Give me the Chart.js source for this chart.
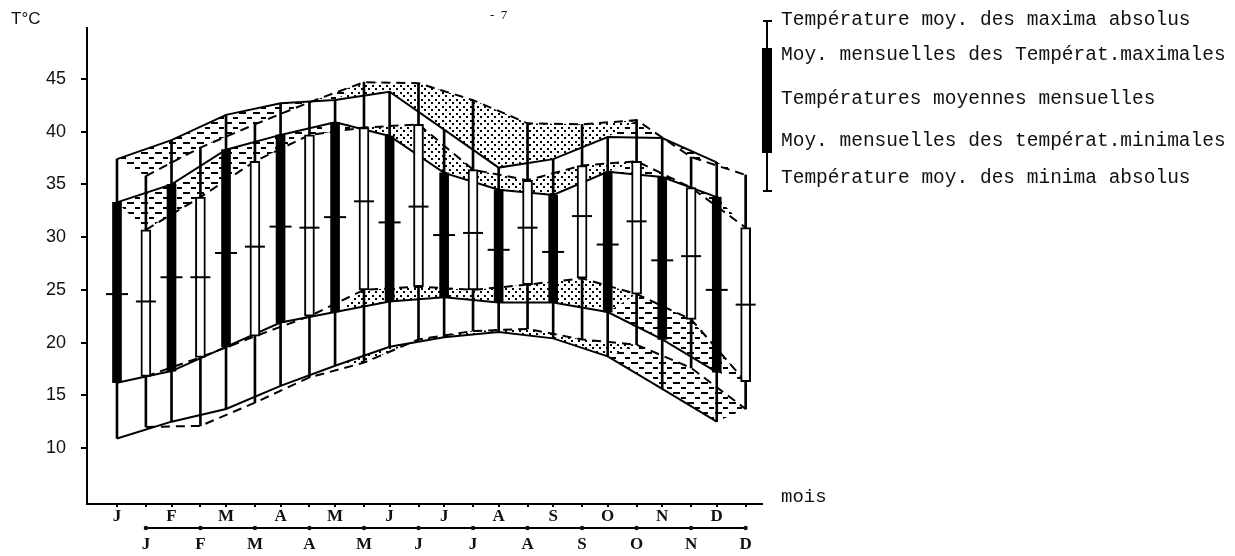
<!DOCTYPE html>
<html>
<head>
<meta charset="utf-8">
<script src="https://cdn.jsdelivr.net/npm/chart.js@4.4.0/dist/chart.umd.min.js"></script>
<style>
  html, body { margin: 0; padding: 0; background: #fff; }
  #wrap { width: 1235px; height: 556px; position: relative; }
</style>
</head>
<body>
<div id="wrap"><canvas id="chart"></canvas></div>
<script>
// Months (top row = station 1, bottom row = station 2)
const months = ['J', 'F', 'M', 'A', 'M', 'J', 'J', 'A', 'S', 'O', 'N', 'D'];
const yTicks = [10, 15, 20, 25, 30, 35, 40, 45];

// Station 1 : black bars, solid lines (°C)
const absMax1 = [37.4, 39.2, 41.6, 42.7, 43.0, 43.8, 40.2, 36.6, 37.4, 39.5, 39.4, 37.1];
const maxMoy1 = [33.3, 35.0, 38.3, 39.7, 40.9, 39.6, 36.1, 34.5, 34.0, 36.2, 35.7, 33.8];
const mean1   = [24.6, 26.2, 28.5, 31.0, 31.9, 31.4, 30.2, 28.8, 28.6, 29.3, 27.8, 25.0];
const minMoy1 = [16.2, 17.3, 19.6, 21.9, 22.9, 23.9, 24.3, 23.8, 23.8, 22.9, 20.3, 17.2];
const absMin1 = [10.9, 12.5, 13.7, 15.9, 17.8, 19.6, 20.5, 21.0, 20.4, 18.7, 15.6, 12.5];

// Station 2 : white bars, dashed lines (°C)
const absMax2 = [35.8, 38.5, 40.7, 42.8, 44.7, 44.6, 43.0, 40.8, 40.7, 41.1, 37.6, 35.9];
const maxMoy2 = [30.7, 33.8, 37.2, 39.7, 40.4, 40.7, 36.4, 35.4, 36.8, 37.2, 34.7, 30.9];
const mean2   = [23.9, 26.2, 29.1, 30.9, 33.4, 32.9, 30.4, 30.9, 32.0, 31.5, 28.2, 23.6];
const minMoy2 = [16.8, 18.6, 20.6, 22.5, 25.0, 25.3, 25.0, 25.5, 26.1, 24.6, 22.2, 16.3];
const absMin2 = [12.0, 12.1, 14.3, 16.7, 18.1, 20.3, 21.1, 21.3, 20.3, 19.8, 17.6, 13.7];

const legendLines = [
  'Température moy. des maxima absolus',
  'Moy. mensuelles des Températ.maximales',
  'Températures moyennes mensuelles',
  'Moy. mensuelles des températ.minimales',
  'Température moy. des minima absolus'
];

// station 2 sits a little after station 1 on the month axis
const shift2 = 0.53;

function makePattern(kind) {
  const c = document.createElement('canvas');
  const g = c.getContext('2d');
  g.fillStyle = '#1a1a1a';
  if (kind === 'dash') {
    c.width = 14; c.height = 10;
    g.fillRect(1, 2, 7, 2);
    g.fillRect(9, 7, 5, 2);
  } else {
    c.width = 7; c.height = 7;
    g.fillRect(1, 1, 2, 2);
    g.fillRect(4, 4, 2, 2);
  }
  return g.createPattern(c, 'repeat');
}
const dashPat = makePattern('dash');
const dotPat = makePattern('dot');

const pts = (arr, dx) => arr.map((v, i) => ({ x: i + dx, y: v }));
const range = (lo, hi, dx) => lo.map((v, i) => ({ x: i + dx, y: [v, hi[i]] }));

// closed outline between the two stations' curves, months from..to
function band(a, b, from, to) {
  const out = [];
  for (let i = from; i <= to; i++) out.push({ x: i, y: a[i] });
  for (let i = to; i >= from; i--) out.push({ x: i + shift2, y: b[i] });
  return out;
}

function bandSet(a, b, from, to, pat) {
  return {
    type: 'line', data: band(a, b, from, to), fill: 'shape',
    backgroundColor: pat, borderColor: 'rgba(0,0,0,0)', borderWidth: 0,
    pointRadius: 0, order: 50
  };
}

function curve(arr, dx, dashed) {
  return {
    type: 'line', data: pts(arr, dx), borderColor: '#000', borderWidth: 2,
    borderDash: dashed ? [9, 6] : [], pointRadius: 0, fill: false, order: 40
  };
}

const datasets = [
  bandSet(absMax1, absMax2, 0, 4, dashPat),
  bandSet(absMax1, absMax2, 4, 9, dotPat),
  bandSet(absMax1, absMax2, 9, 11, dashPat),
  bandSet(maxMoy1, maxMoy2, 0, 4, dashPat),
  bandSet(maxMoy1, maxMoy2, 4, 9, dotPat),
  bandSet(maxMoy1, maxMoy2, 9, 11, dashPat),
  bandSet(minMoy1, minMoy2, 4, 9, dotPat),
  bandSet(minMoy1, minMoy2, 9, 11, dashPat),
  bandSet(absMin1, absMin2, 4, 9, dotPat),
  bandSet(absMin1, absMin2, 9, 11, dashPat),

  curve(absMax1, 0, false), curve(maxMoy1, 0, false),
  curve(minMoy1, 0, false), curve(absMin1, 0, false),
  curve(absMax2, shift2, true), curve(maxMoy2, shift2, true),
  curve(minMoy2, shift2, true), curve(absMin2, shift2, true),

  { type: 'bar', data: range(absMin1, absMax1, 0), backgroundColor: '#000',
    barThickness: 2, grouped: false, order: 30 },
  { type: 'bar', data: range(absMin2, absMax2, shift2), backgroundColor: '#000',
    barThickness: 2, grouped: false, order: 30 },

  { type: 'bar', data: range(minMoy1, maxMoy1, 0), backgroundColor: '#000',
    barThickness: 9, grouped: false, borderSkipped: false, order: 20 },
  { type: 'bar', data: range(minMoy2, maxMoy2, shift2), backgroundColor: '#fff',
    borderColor: '#000', borderWidth: 2, barThickness: 10, grouped: false,
    borderSkipped: false, order: 20 },

  { type: 'line', data: pts(mean1, 0), showLine: false, pointStyle: 'line',
    pointRadius: 11, pointBorderWidth: 2, pointBorderColor: '#000', order: 10 },
  { type: 'line', data: pts(mean2, shift2), showLine: false, pointStyle: 'line',
    pointRadius: 10, pointBorderWidth: 2, pointBorderColor: '#000', order: 10 }
];

// texts, legend symbol and the second month line
const decor = {
  id: 'decor',
  afterDraw(chart) {
    const ctx = chart.ctx;
    const xs = chart.scales.x;
    ctx.save();
    ctx.fillStyle = '#111';
    ctx.strokeStyle = '#000';

    ctx.font = '17px "Liberation Sans"';
    ctx.textBaseline = 'middle';
    ctx.fillText('T°C', 11, 19);
    ctx.font = '13px "Liberation Serif"';
    ctx.fillText('-  7', 490, 16);
    ctx.font = '19px "Liberation Mono"';
    ctx.fillText('mois', 781, 497);

    // second month line (station 2)
    const y2 = xs.top + 24;
    ctx.lineWidth = 2;
    ctx.beginPath();
    ctx.moveTo(xs.getPixelForValue(shift2), y2);
    ctx.lineTo(xs.getPixelForValue(months.length - 1 + shift2), y2);
    ctx.stroke();
    months.forEach((m, i) => {
      ctx.beginPath();
      ctx.arc(xs.getPixelForValue(i + shift2), y2, 2.2, 0, Math.PI * 2);
      ctx.fill();
    });

    // legend symbol
    ctx.beginPath();
    ctx.moveTo(767, 21); ctx.lineTo(767, 191);
    ctx.moveTo(763, 21); ctx.lineTo(772, 21);
    ctx.moveTo(763, 191); ctx.lineTo(772, 191);
    ctx.stroke();
    ctx.fillStyle = '#000';
    ctx.fillRect(762, 48, 10, 105);

    ctx.fillStyle = '#111';
    ctx.font = '19.5px "Liberation Mono"';
    const ly = [20, 55, 99, 141, 178];
    legendLines.forEach((t, i) => ctx.fillText(t, 781, ly[i]));
    ctx.restore();
  }
};

new Chart(document.getElementById('chart'), {
  type: 'bar',
  data: { datasets },
  options: {
    responsive: true,
    maintainAspectRatio: false,
    animation: false,
    layout: { padding: { left: 0, top: 28, right: 473, bottom: 0 } },
    plugins: { legend: { display: false }, tooltip: { enabled: false } },
    scales: {
      x: {
        type: 'linear', min: -0.55, max: 11.83, offset: false,
        border: { color: '#000', width: 2 },
        grid: { offset: false, drawOnChartArea: false, drawTicks: true, tickLength: 3,
                color: '#000', lineWidth: 2 },
        afterBuildTicks: axis => {
          const t = [];
          months.forEach((m, i) => { t.push({ value: i }); t.push({ value: i + shift2 }); });
          axis.ticks = t;
        },
        ticks: {
          autoSkip: false, maxRotation: 0, minRotation: 0, padding: -4, color: '#111',
          font: { family: 'Liberation Serif', size: 17, weight: 'bold', lineHeight: 1.65 },
          callback: (v, i) => (i % 2 === 0 ? months[i / 2] : ['', months[(i - 1) / 2]])
        },
        afterFit: s => { s.height = 52; }
      },
      y: {
        type: 'linear', min: 4.69, max: 49.84,
        border: { color: '#000', width: 2 },
        grid: { drawOnChartArea: false, drawTicks: true, tickLength: 6,
                color: '#000', lineWidth: 2 },
        afterBuildTicks: axis => { axis.ticks = yTicks.map(v => ({ value: v })); },
        ticks: { padding: 15, color: '#111',
                 font: { family: 'Liberation Sans', size: 18 } },
        afterFit: s => { s.width = 87; }
      }
    }
  },
  plugins: [decor]
});
</script>
</body>
</html>
